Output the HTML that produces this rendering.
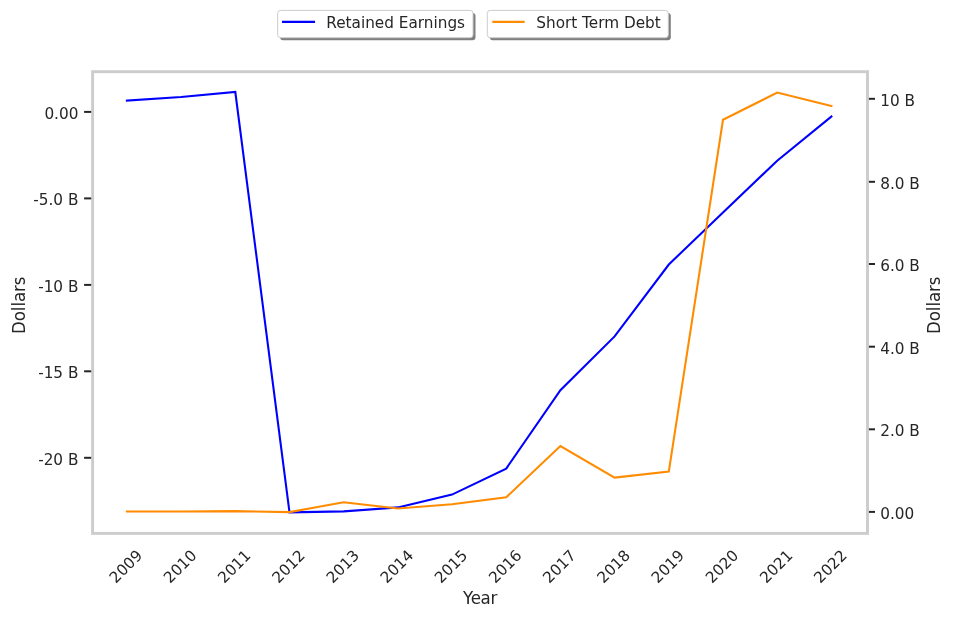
<!DOCTYPE html>
<html lang="en"><head><meta charset="utf-8"><title>Retained Earnings vs Short Term Debt</title>
<style>
html,body{margin:0;padding:0;background:#fff;}
body{width:953px;height:618px;overflow:hidden;}
svg{display:block;}
text{font-family:"DejaVu Sans","Liberation Sans",sans-serif;fill:#262626;}
.t11{font-size:15.28px;}
.t12{font-size:16.67px;}
</style></head><body>
<svg width="953" height="618" viewBox="0 0 953 618">
<rect width="953" height="618" fill="#fff"/>
<g stroke="#262626" stroke-width="2.0" stroke-linecap="butt"><line x1="84.10" y1="111.9" x2="92.6" y2="111.9"/><line x1="84.10" y1="198.4" x2="92.6" y2="198.4"/><line x1="84.10" y1="284.9" x2="92.6" y2="284.9"/><line x1="84.10" y1="371.3" x2="92.6" y2="371.3"/><line x1="84.10" y1="457.8" x2="92.6" y2="457.8"/><line x1="867.5" y1="511.9" x2="875.00" y2="511.9"/><line x1="867.5" y1="429.3" x2="875.00" y2="429.3"/><line x1="867.5" y1="346.7" x2="875.00" y2="346.7"/><line x1="867.5" y1="264.0" x2="875.00" y2="264.0"/><line x1="867.5" y1="181.8" x2="875.00" y2="181.8"/><line x1="867.5" y1="98.8" x2="875.00" y2="98.8"/></g>
<polyline fill="none" stroke="#0000ff" stroke-width="2.08" stroke-linejoin="miter" stroke-linecap="square" points="126.9,100.6 181.1,97.0 235.3,92.0 289.5,512.4 343.7,511.4 397.9,507.4 452.0,494.6 506.2,468.6 560.4,390.2 614.6,336.4 668.8,264.5 723.0,212.4 777.2,160.7 831.4,116.5"/>
<polyline fill="none" stroke="#ff8c00" stroke-width="2.08" stroke-linejoin="miter" stroke-linecap="square" points="126.9,511.5 181.1,511.5 235.3,511.1 289.5,512.1 343.7,502.2 397.9,508.5 452.0,504.3 506.2,497.3 560.4,446.0 614.6,477.6 668.8,471.6 723.0,119.8 777.2,92.6 831.4,106.0"/>
<rect x="92.6" y="71.7" width="774.9" height="461.7" fill="none" stroke="#cccccc" stroke-width="2.9"/>
<g class="t11" text-anchor="end"><text x="78.4" y="118.7">0.00</text><text x="78.4" y="205.2">-5.0 B</text><text x="78.4" y="291.7">-10 B</text><text x="78.4" y="378.1">-15 B</text><text x="78.4" y="464.6">-20 B</text></g>
<g class="t11" text-anchor="start"><text x="880.2" y="518.7">0.00</text><text x="880.2" y="436.1">2.0 B</text><text x="880.2" y="353.5">4.0 B</text><text x="880.2" y="270.8">6.0 B</text><text x="880.2" y="188.6">8.0 B</text><text x="880.2" y="105.6">10 B</text></g>
<g class="t11" text-anchor="middle"><text transform="translate(129.6,570.2) rotate(-45)">2009</text><text transform="translate(183.8,570.2) rotate(-45)">2010</text><text transform="translate(238.0,570.2) rotate(-45)">2011</text><text transform="translate(292.2,570.2) rotate(-45)">2012</text><text transform="translate(346.4,570.2) rotate(-45)">2013</text><text transform="translate(400.6,570.2) rotate(-45)">2014</text><text transform="translate(454.7,570.2) rotate(-45)">2015</text><text transform="translate(508.9,570.2) rotate(-45)">2016</text><text transform="translate(563.1,570.2) rotate(-45)">2017</text><text transform="translate(617.3,570.2) rotate(-45)">2018</text><text transform="translate(671.5,570.2) rotate(-45)">2019</text><text transform="translate(725.7,570.2) rotate(-45)">2020</text><text transform="translate(779.9,570.2) rotate(-45)">2021</text><text transform="translate(834.1,570.2) rotate(-45)">2022</text></g>
<text class="t12" text-anchor="middle" letter-spacing="-0.3" transform="translate(480.05,603.8) scale(1,1.055)">Year</text>
<text class="t12" text-anchor="middle" letter-spacing="-0.1" transform="translate(25.4,305.3) rotate(-90) scale(1,1.1)">Dollars</text>
<text class="t12" text-anchor="middle" letter-spacing="-0.1" transform="translate(940.1,305.3) rotate(-90) scale(1,1.1)">Dollars</text>
<rect x="280.1" y="12.9" width="195.4" height="27.3" rx="3" ry="3" fill="#000" fill-opacity="0.5"/><rect x="277.6" y="10.4" width="195.4" height="27.3" rx="3" ry="3" fill="#fff" stroke="#cccccc" stroke-width="1"/><line x1="283" y1="21.9" x2="314" y2="21.9" stroke="#0000ff" stroke-width="2.08" stroke-linecap="square"/><text class="t11" x="326.3" y="27.6">Retained Earnings</text>
<rect x="489.8" y="12.9" width="181" height="27.3" rx="3" ry="3" fill="#000" fill-opacity="0.5"/><rect x="487.3" y="10.4" width="181" height="27.3" rx="3" ry="3" fill="#fff" stroke="#cccccc" stroke-width="1"/><line x1="493.3" y1="21.9" x2="523.6" y2="21.9" stroke="#ff8c00" stroke-width="2.08" stroke-linecap="square"/><text class="t11" x="536.3" y="27.6">Short Term Debt</text>
</svg></body></html>
